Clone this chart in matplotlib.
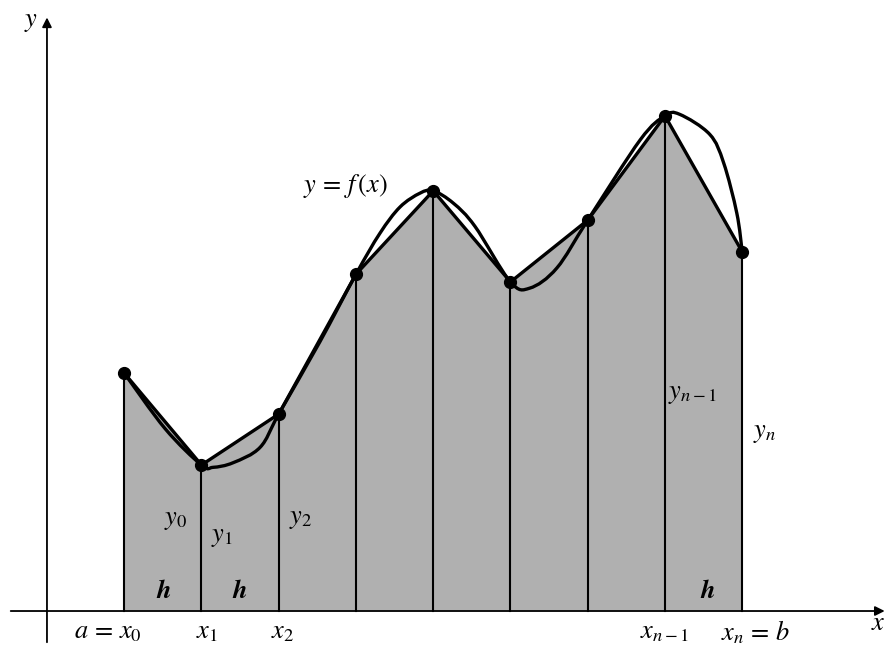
import numpy as np
import matplotlib
matplotlib.use("Agg")
import matplotlib.pyplot as plt
from matplotlib.path import Path
from matplotlib.patches import PathPatch, Polygon

plt.rcParams['mathtext.fontset'] = 'stix'
plt.rcParams['font.family'] = 'STIXGeneral'

""" Nodes of the trapezoid rule (x_i, y_i) """
x_nodes = [1, 2, 3, 4, 5, 6, 7, 8, 9]
y_nodes = [3.08, 1.89, 2.55, 4.36, 5.44, 4.26, 5.06, 6.41, 4.65]

""" Points read along the curve y = f(x) """
x_curve = [1, 1.53, 2, 2.15, 2.41, 2.76, 3, 3.53, 4, 4.31, 4.57, 4.83, 5,
           5.26, 5.54, 6, 6.25, 6.60, 7, 7.68, 8, 8.19, 8.58, 8.76, 8.93, 9]
y_curve = [3.08, 2.36, 1.89, 1.86, 1.92, 2.12, 2.55, 3.48, 4.36, 4.89, 5.23,
           5.41, 5.44, 5.28, 4.98, 4.26, 4.18, 4.44, 5.06, 6.10, 6.41, 6.43,
           6.17, 5.80, 5.15, 4.65]

""" Labels """
bottom_labels = [(0.79, r'$a\,=\,x_0$'), (2.07, r'$x_1$'), (3.05, r'$x_2$'),
                 (7.99, r'$x_{n-1}$'), (9.17, r'$x_n\,=\,b$')]
inner_labels = [(1.66, 1.18, r'$y_0$'), (2.27, 0.96, r'$y_1$'),
                (3.28, 1.19, r'$y_2$'), (8.36, 2.81, r'$y_{n-1}$'),
                (9.29, 2.30, r'$y_n$')]
h_pos = [1.51, 2.50, 8.56]

FONTSIZE = 19
LW = 2.4

fig = plt.figure(figsize=(8.88, 6.45), dpi=100)
ax = fig.add_axes([0, 0, 1, 1])
ax.set_xlim(-0.608, 10.887)
ax.set_ylim(-0.44, 7.91)
ax.axis('off')

# shaded trapezoids
verts = [(x_nodes[0], 0)] + list(zip(x_nodes, y_nodes)) + [(x_nodes[-1], 0)]
ax.add_patch(Polygon(verts, closed=True, facecolor='#b0b0b0',
                     edgecolor='none', zorder=1))

# vertical ordinates
for xn, yn in zip(x_nodes, y_nodes):
    ax.plot([xn, xn], [0, yn], color='black', lw=1.5, zorder=2)

# chords
ax.plot(x_nodes, y_nodes, color='black', lw=LW, zorder=3)

# smooth curve (Catmull-Rom -> cubic bezier)
pts = np.column_stack([x_curve, y_curve])
ext = np.vstack([pts[0], pts, pts[-1]])
verts_c = [tuple(pts[0])]
codes = [Path.MOVETO]
for i in range(1, len(ext) - 2):
    p0, p1, p2, p3 = ext[i - 1], ext[i], ext[i + 1], ext[i + 2]
    c1 = p1 + (p2 - p0) / 6.0
    c2 = p2 - (p3 - p1) / 6.0
    verts_c += [tuple(c1), tuple(c2), tuple(p2)]
    codes += [Path.CURVE4] * 3
ax.add_patch(PathPatch(Path(verts_c, codes), facecolor='none',
                       edgecolor='black', lw=LW, zorder=4))

# node dots
ax.plot(x_nodes, y_nodes, 'o', color='black', ms=8.5, zorder=5)

# axes with arrows
ax.annotate('', xy=(10.88, 0), xytext=(-0.505, 0), annotation_clip=False,
            arrowprops=dict(arrowstyle='-|>', color='black', lw=1.3,
                            mutation_scale=14), zorder=6)
ax.annotate('', xy=(0, 7.72), xytext=(0, -0.44), annotation_clip=False,
            arrowprops=dict(arrowstyle='-|>', color='black', lw=1.3,
                            mutation_scale=14), zorder=6)
ax.text(-0.12, 7.62, r'$y$', fontsize=FONTSIZE, ha='right', va='center')
ax.text(10.86, -0.17, r'$x$', fontsize=FONTSIZE, ha='right', va='center')

for xl, txt in bottom_labels:
    ax.text(xl, -0.28, txt, fontsize=FONTSIZE, ha='center', va='center')
for xl, yl, txt in inner_labels:
    ax.text(xl, yl, txt, fontsize=FONTSIZE, ha='center', va='center', zorder=6)
for xl in h_pos:
    ax.text(xl, 0.25, r'$\boldsymbol{h}$', fontsize=FONTSIZE, ha='center',
            va='center', zorder=6)
ax.text(3.86, 5.50, r'$y\,=\,f\,(x)$', fontsize=FONTSIZE, ha='center',
        va='center', zorder=6)

fig.savefig('out.png', dpi=100)
